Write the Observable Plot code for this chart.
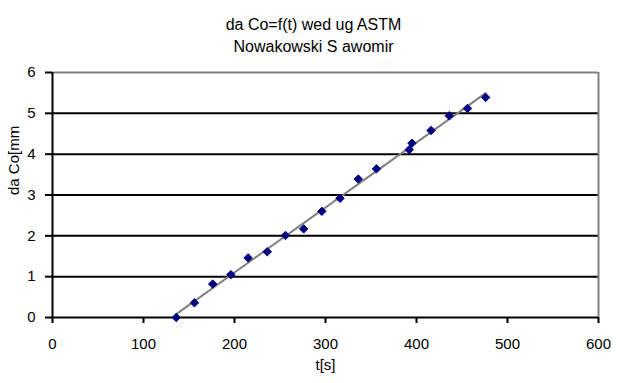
<!DOCTYPE html>
<html>
<head>
<meta charset="utf-8">
<script src="https://cdn.jsdelivr.net/npm/d3@7"></script>
<script src="https://cdn.jsdelivr.net/npm/@observablehq/plot@0.6"></script>
<style>
  html, body { margin: 0; padding: 0; background: #fff; }
  body { width: 627px; height: 383px; overflow: hidden; font-family: "Liberation Sans", Arial, sans-serif; }
  .title { width: 627px; text-align: center; font-size: 16px; color: #000; line-height: 22px; height: 56px; padding-top: 14px; box-sizing: border-box; }
</style>
</head>
<body>
<div class="title"><div id="t1"></div><div id="t2"></div></div>
<div id="chart"></div>
<script>
const title = "da Co=f(t) wed ug ASTM";
const subtitle = "Nowakowski S awomir";
const xLabel = "t[s]";
const yLabel = "da Co[mm";
const times = [136, 156, 176, 196, 215, 236, 256, 276, 296, 316, 336, 356, 392, 395, 416, 436, 456, 476];
const lengths = [0, 0.36, 0.82, 1.05, 1.46, 1.61, 2.01, 2.17, 2.60, 2.92, 3.39, 3.64, 4.11, 4.27, 4.58, 4.94, 5.12, 5.39];
const xTicks = [0, 100, 200, 300, 400, 500, 600];
const yTicks = [0, 1, 2, 3, 4, 5, 6];

document.getElementById("t1").textContent = title;
document.getElementById("t2").textContent = subtitle;

const data = times.map((t, i) => ({t, v: lengths[i]}));

const plot = Plot.plot({
  width: 627,
  height: 327,
  marginTop: 16,
  marginBottom: 66,
  marginLeft: 52,
  marginRight: 29,
  style: {fontFamily: "Liberation Sans, Arial, sans-serif", fontSize: "15px", color: "#000", background: "#fff"},
  x: {domain: [0, 600], ticks: xTicks, label: null},
  y: {domain: [0, 6], ticks: yTicks, label: null},
  marks: [
    Plot.ruleY(yTicks.filter(d => d > 0 && d < 6), {stroke: "#000", strokeWidth: 2}),
    Plot.ruleY([6], {stroke: "#808080", strokeWidth: 2}),
    Plot.ruleX([600], {stroke: "#808080", strokeWidth: 2}),
    Plot.ruleY([0], {stroke: "#000", strokeWidth: 2}),
    Plot.ruleX([0], {stroke: "#000", strokeWidth: 2}),
    Plot.axisX({ticks: xTicks, tickFormat: d3.format("d"), tickSize: 6, tickPadding: 15, stroke: "#000", strokeWidth: 2, strokeOpacity: 1, label: null}),
    Plot.axisY({ticks: yTicks, tickFormat: d3.format("d"), tickSize: 7, tickPadding: 10, stroke: "#000", strokeWidth: 2, strokeOpacity: 1, label: null}),
    Plot.text([xLabel], {frameAnchor: "bottom", dy: 52, text: d => d, fontSize: 15}),
    Plot.text([yLabel], {frameAnchor: "left", dx: -38, rotate: -90, text: d => d, fontSize: 15}),
    Plot.linearRegressionY(data, {x: "t", y: "v", stroke: "#808080", strokeWidth: 2, ci: 0}),
    Plot.dot(data, {x: "t", y: "v", symbol: "diamond2", r: 3.8, fill: "#000080", stroke: "#000080", strokeWidth: 1})
  ]
});
document.getElementById("chart").appendChild(plot);
</script>
</body>
</html>
